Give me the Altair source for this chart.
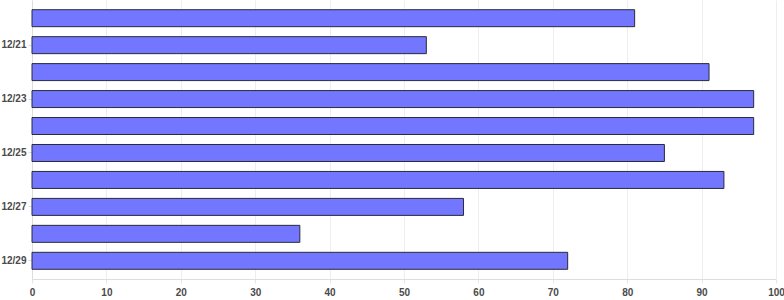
import altair as alt
import pandas as pd

dates = ["12/20", "12/21", "12/22", "12/23", "12/24", "12/25", "12/26", "12/27", "12/28", "12/29"]
values = [81, 53, 91, 97, 97, 85, 93, 58, 36, 72]
shown_labels = ["12/21", "12/23", "12/25", "12/27", "12/29"]
x_ticks = [0, 10, 20, 30, 40, 50, 60, 70, 80, 90, 100]

df = pd.DataFrame({"date": dates, "value": values})

chart = alt.Chart(df).mark_bar(
    color="#7377ff", stroke="#2a2a3a", strokeWidth=1
).encode(
    y=alt.Y("date:N", sort=dates, title=None,
            scale=alt.Scale(paddingInner=0.37, paddingOuter=0.36),
            axis=alt.Axis(values=shown_labels, labelFont="Liberation Sans",
                          labelFontWeight="bold", labelFontSize=10, labelColor="#4a4a4a",
                          domainColor="#dddddd", tickColor="#dddddd", tickSize=4,
                          labelPadding=2, grid=False)),
    x=alt.X("value:Q", title=None,
            scale=alt.Scale(domain=[0, 100], nice=False),
            axis=alt.Axis(values=x_ticks, labelFont="Liberation Sans",
                          labelFontWeight="bold", labelFontSize=10, labelColor="#4a4a4a",
                          domainColor="#dddddd", tickColor="#e6e6e6", tickSize=4,
                          gridColor="#eeeeee", labelPadding=4, labelFlush=False,
                          labelOverlap=False)),
).properties(
    width=744, height=279,
    autosize=alt.AutoSizeParams(type="none"),
    padding={"left": 32, "top": 0, "right": 8, "bottom": 21},
).configure_view(stroke=None)

chart.save("out.html", embed_options={"renderer": "svg", "actions": False})
